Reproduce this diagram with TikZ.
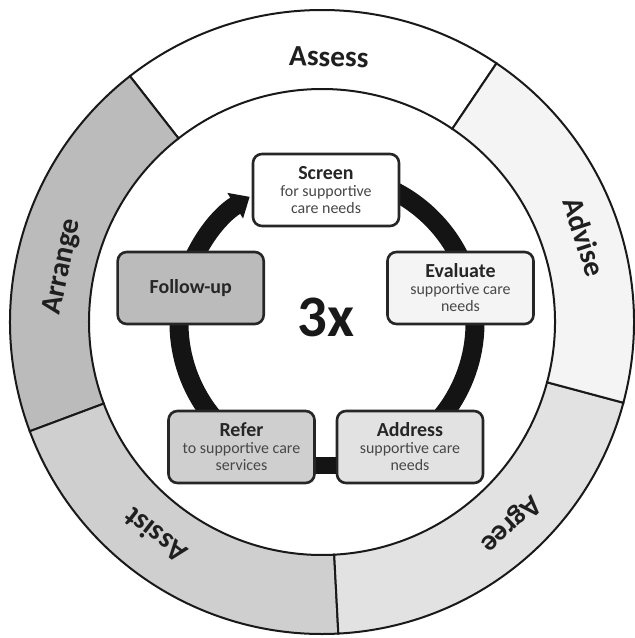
\documentclass[tikz,border=0pt]{standalone}
\usepackage{fontspec}
\setmainfont{Carlito}
\usetikzlibrary{arrows.meta}

\definecolor{shadeA}{gray}{1}
\definecolor{shadeB}{gray}{0.955}
\definecolor{shadeC}{gray}{0.885}
\definecolor{shadeD}{gray}{0.81}
\definecolor{shadeE}{gray}{0.735}

\tikzstyle{stage}=[draw=black!85, line width=2.6bp, rounded corners=9bp, minimum width=146bp, minimum height=72bp, align=center, inner sep=2bp, text=black!72, font=\fontsize{16}{17}\selectfont]
\tikzstyle{ring}=[line width=19bp, draw=black!92]
\tikzstyle{sector}=[draw=black!90, line width=2bp]
\tikzstyle{phase}=[font=\fontsize{29.5}{30}\selectfont\bfseries, text=black!88]

\newcommand{\stagetitle}[1]{{\fontsize{20}{20}\selectfont\bfseries\color{black!85}#1}}

\begin{document}
\begin{tikzpicture}[x=1bp,y=1bp]
\useasboundingbox (-322,-316) rectangle (313,322);
% outer band, one sector per step
\foreach \a/\b/\c in {56/128/shadeA, 128/200.5/shadeE, 200.5/273/shadeD, 273/345/shadeC, 345/416/shadeB} {
	\draw[sector, fill=\c] (\a:233) arc[start angle=\a, end angle=\b, radius=233] -- (\b:312) arc[start angle=\b, end angle=\a, radius=312] -- cycle;
}
\foreach \name/\ang/\rad in {Assess/88.5/265, Advise/18/276, Arrange/168/265, Assist/232/271, Agree/313/276} {
	\node[phase, rotate=\ang-90] at (\ang:\rad) {\name};
}
% the cycle behind the boxes
\coordinate (hub) at (5,-1);
\draw[ring] (hub) ++(95:148) arc[start angle=95, end angle=15, radius=148];
\draw[ring] (hub) ++(15:148) arc[start angle=15, end angle=-58, radius=148];
\draw[ring] (hub) ++(238:148) arc[start angle=238, end angle=165, radius=148];
\draw[ring, -{Triangle[width=29bp,length=17bp]}] (hub) ++(165:148) arc[start angle=165, end angle=121.5, radius=148];

\node[stage, fill=shadeA] (screen) at (4,132) {\stagetitle{Screen}\\for supportive\\care needs};
\node[stage, fill=shadeB] (evaluate) at (138.5,34) {\stagetitle{Evaluate}\\supportive care\\needs};
\node[stage, fill=shadeC] (address) at (88,-125) {\stagetitle{Address}\\supportive care\\needs};
\node[stage, fill=shadeD] (refer) at (-80.5,-125) {\stagetitle{Refer}\\to supportive care\\services};
\node[stage, fill=shadeE] (followup) at (-131.3,34) {\stagetitle{Follow-up}};
\draw[ring, line width=17bp] ([yshift=-18bp]refer.east) -- ([yshift=-18bp]address.west);

\node[font=\fontsize{59}{59}\selectfont\bfseries, text=black!90] (count) at (4,5) {3x};
\end{tikzpicture}
\end{document}
